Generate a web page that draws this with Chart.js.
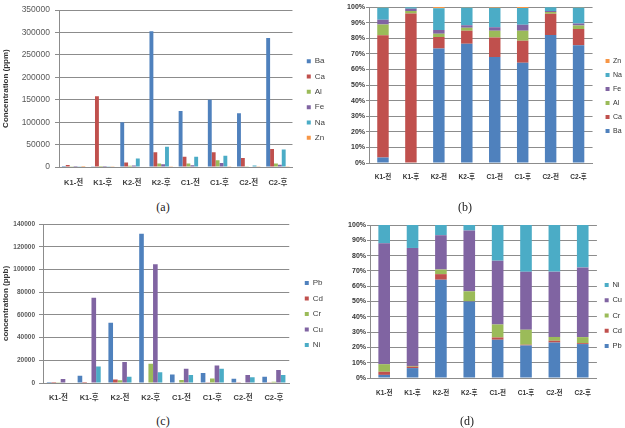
<!DOCTYPE html>
<html>
<head>
<meta charset="utf-8">
<script src="https://cdn.jsdelivr.net/npm/chart.js@4.4.1/dist/chart.umd.min.js"></script>
<style>
  html, body { margin: 0; padding: 0; background: #fff; overflow: hidden; }
  body { position: relative; width: 625px; height: 428px; }
  canvas { position: absolute; }
  .cap { position: absolute; width: 40px; margin-left: -20px; margin-top: -7px; text-align: center;
         font: 12px 'Liberation Serif', 'Times New Roman', serif; line-height: 14px; color: #222; }
</style>
</head>
<body>
<canvas id="chartA" width="335" height="192" style="left:0;top:0"></canvas>
<canvas id="chartB" width="322" height="185" style="left:310px;top:0"></canvas>
<canvas id="chartC" width="333" height="190" style="left:0;top:214px"></canvas>
<canvas id="chartD" width="322" height="191" style="left:310px;top:215px"></canvas>
<div class="cap" style="left:163px;top:207px">(a)</div>
<div class="cap" style="left:465px;top:207px">(b)</div>
<div class="cap" style="left:163px;top:421px">(c)</div>
<div class="cap" style="left:467px;top:421px">(d)</div>
<script>
// sample labels (before / after)
const categories = ['K1-전', 'K1-후', 'K2-전', 'K2-후', 'C1-전', 'C1-후', 'C2-전', 'C2-후'];

// major elements, ppm
const ba = [200, 500, 100000, 303000, 125000, 150000, 120000, 288000];
const ca = [4500, 158000, 10000, 33000, 23000, 33000, 20000, 40000];
const al = [400, 2500, 2700, 8000, 8000, 15000, 1500, 8000];
const fe = [170, 2500, 3400, 6000, 4000, 9000, 1000, 5000];
const na = [450, 1500, 19000, 45000, 23000, 25000, 3500, 39000];
const zn = [20, 300, 1000, 1500, 1000, 1500, 300, 1500];

// heavy metals, ppb
const pb = [90, 6300, 53000, 131500, 7500, 8700, 3800, 5600];
const cd = [90, 900, 3000, 500, 450, 200, 200, 150];
const cr = [220, 500, 2500, 17000, 2550, 4000, 400, 1000];
const cu = [3500, 75000, 18500, 104500, 12500, 15500, 7000, 11500];
const ni = [530, 14600, 5500, 9500, 7000, 12500, 5000, 7000];

const majorNames = ['Ba', 'Ca', 'Al', 'Fe', 'Na', 'Zn'];
const metalNames = ['Pb', 'Cd', 'Cr', 'Cu', 'Ni'];
const colors = ['#4F81BD', '#C0504D', '#9BBB59', '#8064A2', '#4BACC6', '#F79646'];

const gridColor = '#8c8c8c';
const latin = "'Liberation Sans', Arial, sans-serif";
const latinKr = "'Liberation Sans', 'Noto Sans CJK KR', sans-serif";

Chart.defaults.animation = false;
Chart.defaults.plugins.tooltip.enabled = false;

// share of each element in every sample (100% stacked charts)
function toPercent(series) {
    var totals = categories.map(function (_, i) {
        return series.reduce(function (s, arr) { return s + arr[i]; }, 0);
    });
    return series.map(function (arr) {
        return arr.map(function (v, i) { return v / totals[i] * 100; });
    });
}

function makeDatasets(names, series, opts) {
    return names.map(function (name, i) {
        return Object.assign({
            label: name,
            data: series[i],
            backgroundColor: colors[i],
            borderWidth: 0
        }, opts);
    });
}

// empty axis used only to leave a gap between plot and legend
function gapAxis(w) {
    return {
        type: 'linear', position: 'right', display: true,
        grid: { display: false }, border: { display: false }, ticks: { display: false },
        afterFit: function (s) { s.width = w; }
    };
}

function groupedChart(id, cfg) {
    return new Chart(document.getElementById(id), {
        type: 'bar',
        data: {
            labels: categories,
            datasets: makeDatasets(cfg.names, cfg.series, { barPercentage: 1, categoryPercentage: cfg.catPct })
        },
        options: {
            responsive: false,
            devicePixelRatio: 1,
            layout: { padding: { top: cfg.padTop, left: 0, right: 0, bottom: 0 } },
            plugins: {
                legend: {
                    position: 'right',
                    labels: { boxWidth: 4, boxHeight: 4, padding: cfg.legendPad, color: '#404040',
                              font: { family: latin, size: 8 } }
                }
            },
            scales: {
                x: {
                    grid: { display: false, drawTicks: false },
                    border: { color: gridColor },
                    ticks: { padding: cfg.xPad, color: '#404040', maxRotation: 0, autoSkip: false,
                             font: { family: latinKr, size: 7.5, weight: 'bold' } },
                    afterFit: function (s) { s.height = cfg.xHeight; }
                },
                y: {
                    min: 0, max: cfg.max,
                    ticks: { stepSize: cfg.step, padding: cfg.yPad, color: '#595959',
                             font: cfg.yFont, callback: function (v) { return String(v); } },
                    grid: { color: gridColor, tickLength: 4 },
                    border: { color: gridColor },
                    title: { display: true, text: cfg.title, color: '#333',
                             font: { family: latin, size: 8, weight: 'bold' }, padding: { top: 1, bottom: 0 } },
                    afterFit: function (s) { s.width = cfg.yWidth; }
                },
                gap: gapAxis(cfg.gap)
            }
        }
    });
}

function percentChart(id, cfg) {
    var scales = {
        x: {
            stacked: true,
            grid: { display: false, drawTicks: false },
            border: { color: gridColor },
            ticks: { padding: cfg.xPad, color: '#333', maxRotation: 0, autoSkip: false,
                     font: { family: latinKr, size: 6.5, weight: 'bold' } },
            afterFit: function (s) { s.height = cfg.xHeight; }
        },
        y: {
            stacked: true, min: 0, max: 100,
            ticks: { stepSize: 10, padding: 1, color: '#333',
                     font: { family: latin, size: 7, weight: 'bold' },
                     callback: function (v) { return v + '%'; } },
            grid: { color: gridColor, tickLength: 3 },
            border: { color: gridColor },
            afterFit: function (s) { s.width = cfg.yWidth; }
        }
    };
    if (cfg.gap > 0) scales.gap = gapAxis(cfg.gap);

    return new Chart(document.getElementById(id), {
        type: 'bar',
        data: {
            labels: categories,
            datasets: makeDatasets(cfg.names, toPercent(cfg.series), { barPercentage: 0.41, categoryPercentage: 1 })
        },
        options: {
            responsive: false,
            devicePixelRatio: 1,
            layout: { padding: { top: cfg.padTop, left: 0, right: 0, bottom: 0 } },
            plugins: {
                legend: {
                    position: 'right', reverse: true,
                    labels: { boxWidth: 4, boxHeight: 4, padding: cfg.legendPad, color: '#333',
                              font: { family: latin, size: cfg.legendSize } }
                }
            },
            scales: scales
        }
    });
}

// (a) concentration of major elements
groupedChart('chartA', {
    names: majorNames, series: [ba, ca, al, fe, na, zn], catPct: 0.8,
    max: 350000, step: 50000, title: 'Concentration (ppm)',
    yFont: { family: latin, size: 8.5 }, yPad: 5, yWidth: 59,
    padTop: 7, xHeight: 25, xPad: 11, legendPad: 7.3, gap: 7
});

// (b) composition of major elements
percentChart('chartB', {
    names: majorNames, series: [ba, ca, al, fe, na, zn],
    yWidth: 59, padTop: 7, xHeight: 22, xPad: 10, legendPad: 7, legendSize: 7, gap: 6
});

// (c) concentration of heavy metals
groupedChart('chartC', {
    names: metalNames, series: [pb, cd, cr, cu, ni], catPct: 0.75,
    max: 140000, step: 20000, title: 'concentration (ppb)',
    yFont: { family: latin, size: 6.5, weight: 'bold' }, yPad: 4, yWidth: 43,
    padTop: 10, xHeight: 21, xPad: 10, legendPad: 7.5, gap: 8
});

// (d) composition of heavy metals
percentChart('chartD', {
    names: metalNames, series: [pb, cd, cr, cu, ni],
    yWidth: 60, padTop: 10, xHeight: 28, xPad: 11, legendPad: 7.75, legendSize: 7.5, gap: 0
});
</script>
</body>
</html>
